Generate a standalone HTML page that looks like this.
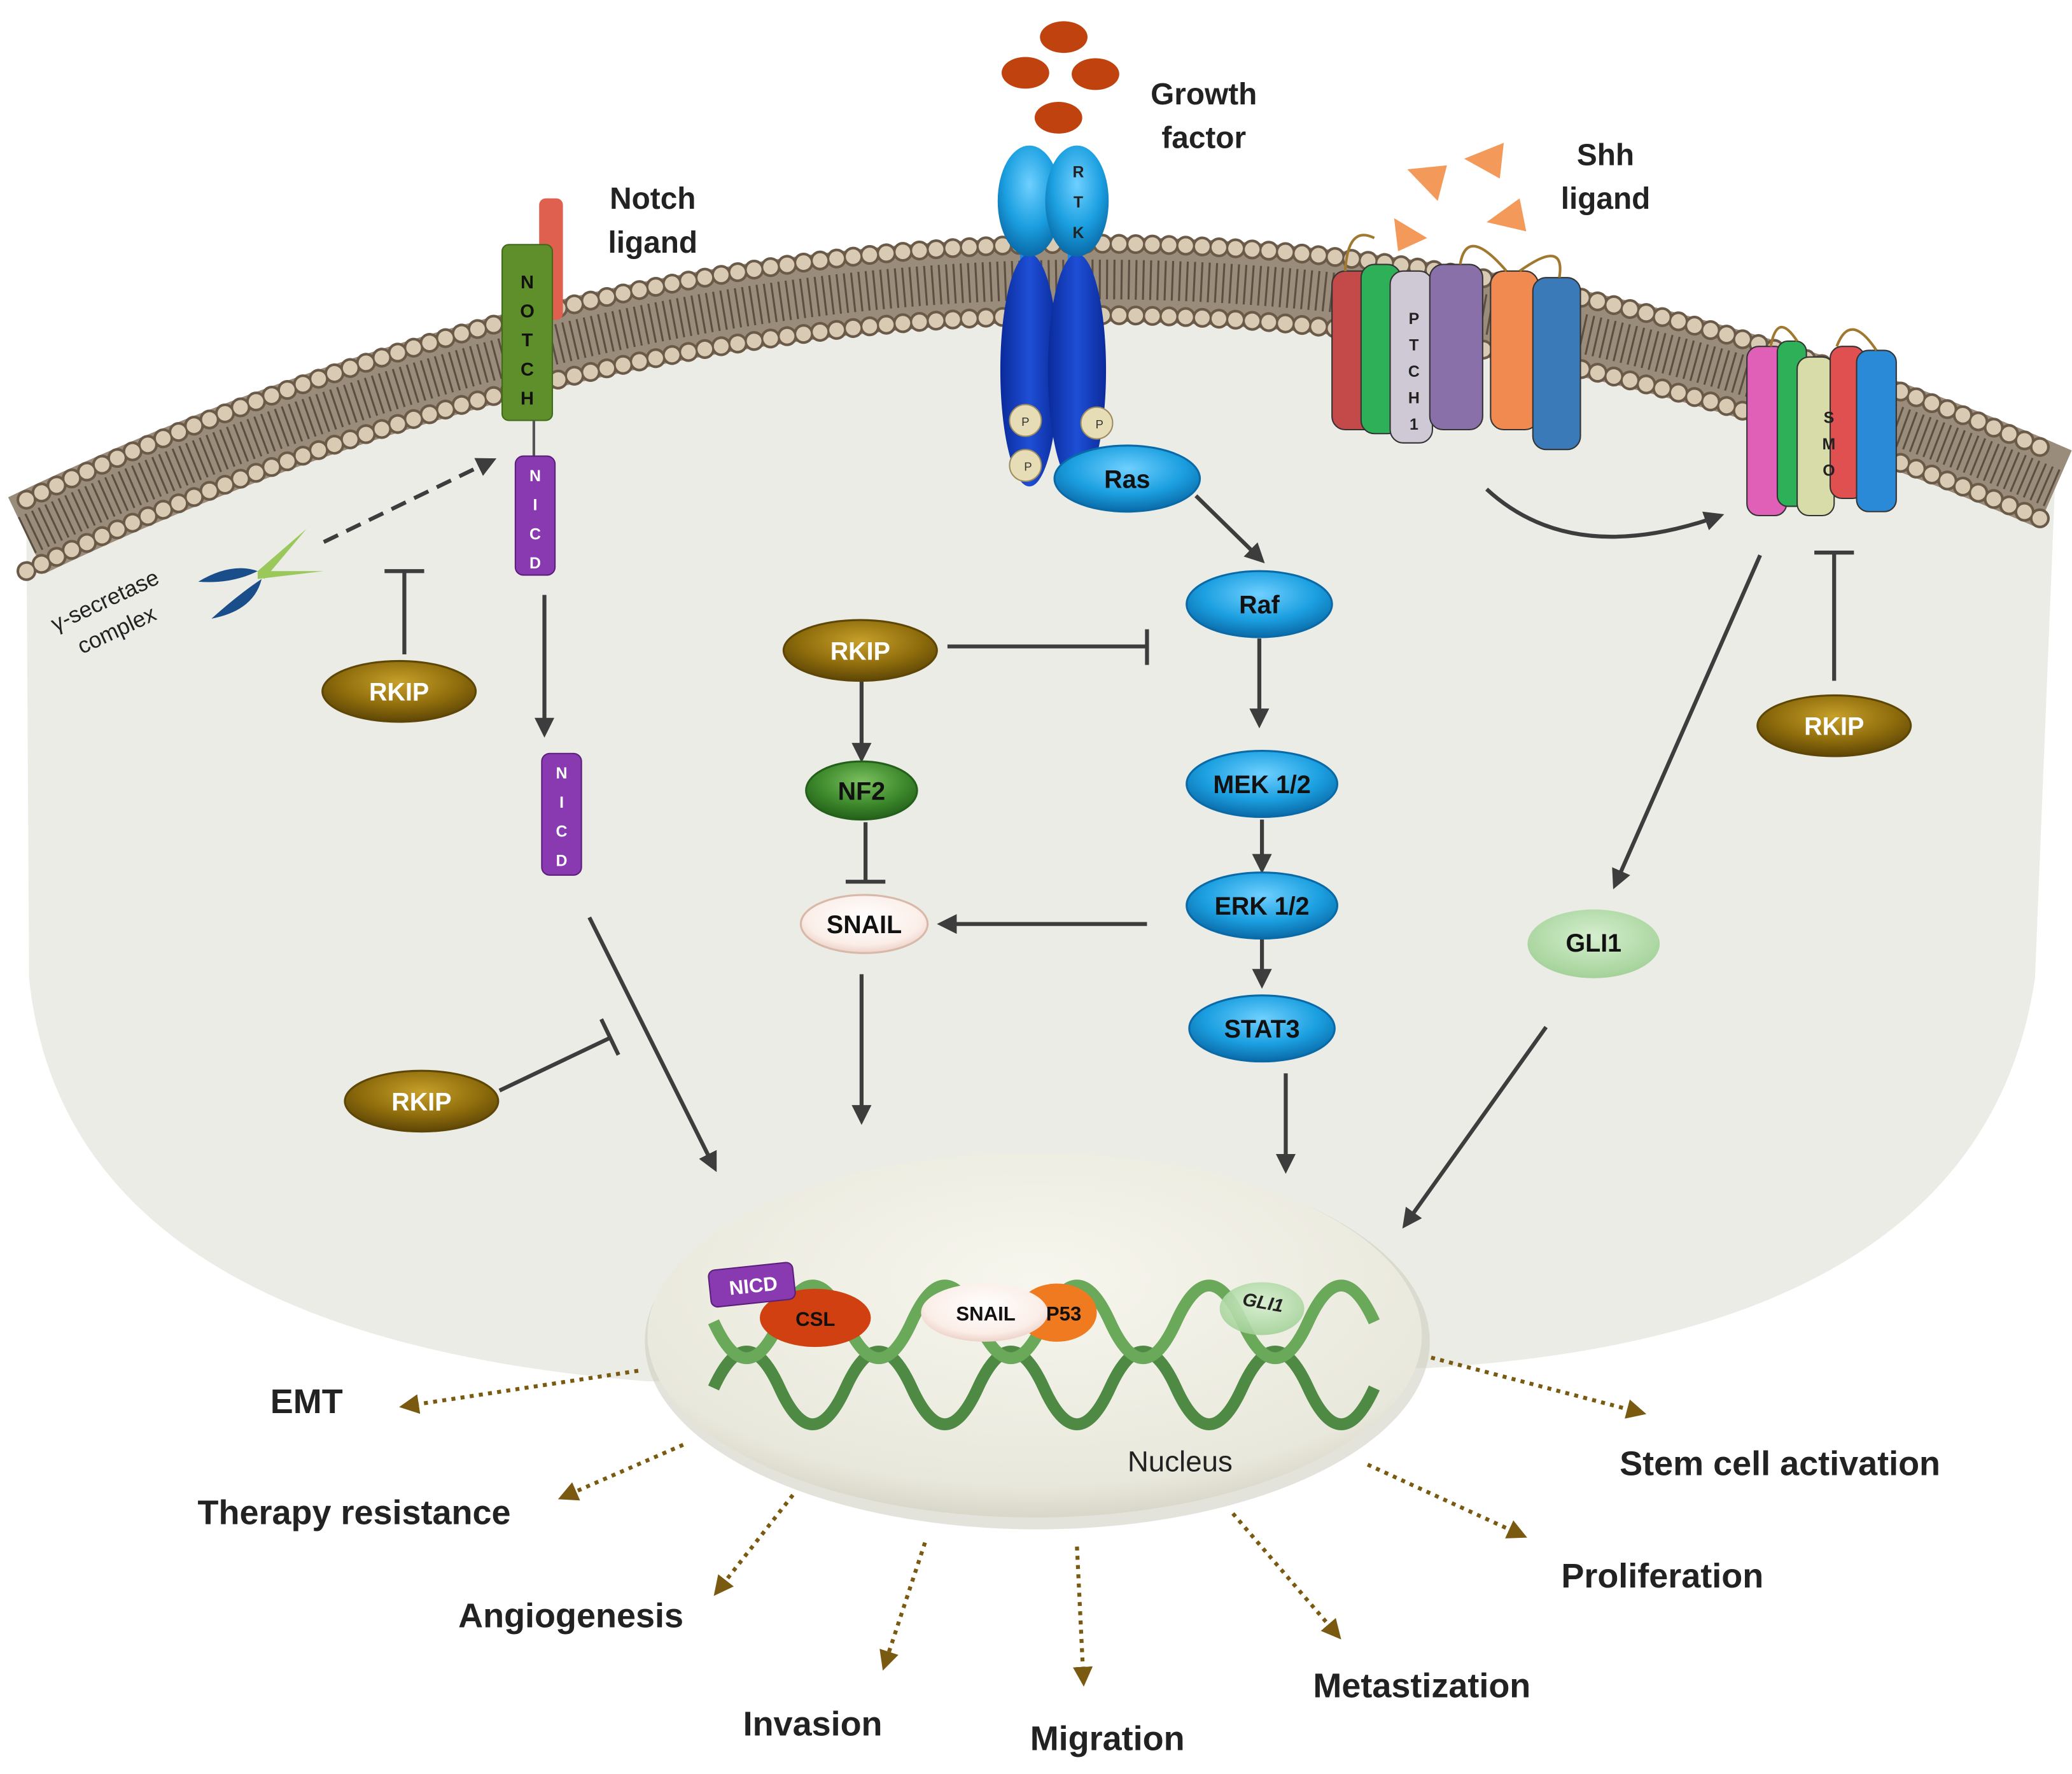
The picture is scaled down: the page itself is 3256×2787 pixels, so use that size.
<!DOCTYPE html>
<html><head><meta charset="utf-8"><style>
html,body{margin:0;padding:0;background:#fff;}
svg{display:block;}
text{font-family:"Liberation Sans",Arial,sans-serif;}
</style></head><body>
<svg width="3256" height="2787" viewBox="0 0 1568 1342" xmlns="http://www.w3.org/2000/svg">
<defs>
<radialGradient id="blue" cx="50%" cy="35%" r="65%"><stop offset="0" stop-color="#6fd0ff"/><stop offset="0.6" stop-color="#1b9fe0"/><stop offset="1" stop-color="#0a6aa8"/></radialGradient>
<radialGradient id="brown" cx="50%" cy="35%" r="65%"><stop offset="0" stop-color="#c7a02a"/><stop offset="0.6" stop-color="#8f6d0c"/><stop offset="1" stop-color="#5e4606"/></radialGradient>
<radialGradient id="green" cx="50%" cy="35%" r="65%"><stop offset="0" stop-color="#7cc060"/><stop offset="0.6" stop-color="#3e8a2c"/><stop offset="1" stop-color="#24601a"/></radialGradient>
<radialGradient id="snail" cx="50%" cy="40%" r="65%"><stop offset="0" stop-color="#ffffff"/><stop offset="0.7" stop-color="#fbeee8"/><stop offset="1" stop-color="#e8c8bc"/></radialGradient>
<radialGradient id="gli" cx="50%" cy="40%" r="65%"><stop offset="0" stop-color="#d6efcf"/><stop offset="1" stop-color="#9fcf94"/></radialGradient>
<radialGradient id="nuc" cx="50%" cy="35%" r="70%"><stop offset="0" stop-color="#f7f6ee"/><stop offset="0.8" stop-color="#e9e8dc"/><stop offset="1" stop-color="#cfcdbd"/></radialGradient>
<linearGradient id="dblue" x1="0" x2="1"><stop offset="0" stop-color="#0a2a9a"/><stop offset="0.5" stop-color="#1e4fd6"/><stop offset="1" stop-color="#0a2a9a"/></linearGradient>
<marker id="ah" viewBox="0 0 10 10" refX="8" refY="5" markerWidth="5" markerHeight="5" orient="auto"><path d="M0,0L10,5L0,10z" fill="#3d3d3d"/></marker>
<marker id="ab" viewBox="0 0 10 10" refX="8" refY="5" markerWidth="5" markerHeight="5" orient="auto"><path d="M0,0L10,5L0,10z" fill="#7a5a10"/></marker>
</defs>

<!-- cell -->
<path d="M20,400 Q790,20 1555,370 L1540,740 Q1500,1010 1080,1035 L490,1045 Q50,1010 22,740 Z" fill="#ecece7"/>
<!-- membrane -->
<path d="M20,405 Q790,36 1555,370" fill="none" stroke="#9a8c7a" stroke-width="64"/>
<path d="M20,405 Q790,36 1555,370" fill="none" stroke="#5c4f42" stroke-width="30" stroke-dasharray="1.5 4"/>
<path d="M20,378 Q790,9 1555,343" fill="none" stroke="#6b5a48" stroke-width="15" stroke-dasharray="0.1 12.5" stroke-linecap="round"/>
<path d="M20,378 Q790,9 1555,343" fill="none" stroke="#d9cab4" stroke-width="11" stroke-dasharray="0.1 12.5" stroke-linecap="round"/>
<path d="M20,432 Q790,63 1555,397" fill="none" stroke="#6b5a48" stroke-width="15" stroke-dasharray="0.1 12.5" stroke-linecap="round"/>
<path d="M20,432 Q790,63 1555,397" fill="none" stroke="#d9cab4" stroke-width="11" stroke-dasharray="0.1 12.5" stroke-linecap="round"/>

<!-- growth factor -->
<g fill="#c0420f"><ellipse cx="805" cy="28" rx="18" ry="12"/><ellipse cx="776" cy="55" rx="18" ry="12"/><ellipse cx="829" cy="56" rx="18" ry="12"/><ellipse cx="801" cy="89" rx="18" ry="12"/></g>
<!-- RTK -->
<rect x="772" y="190" width="10" height="20" fill="#1a8ad8"/><rect x="808" y="190" width="10" height="20" fill="#1a8ad8"/>
<ellipse cx="779" cy="280" rx="22" ry="88" fill="url(#dblue)"/>
<ellipse cx="815" cy="280" rx="22" ry="88" fill="url(#dblue)"/>
<ellipse cx="779" cy="152" rx="24" ry="42" fill="url(#blue)"/>
<ellipse cx="815" cy="152" rx="24" ry="42" fill="url(#blue)"/>
<g font-size="12" font-weight="bold" fill="#222" text-anchor="middle"><text x="816" y="134">R</text><text x="816" y="157">T</text><text x="816" y="180">K</text></g>
<g fill="#e6dcb5" stroke="#9c8c60"><circle cx="776" cy="318" r="12"/><circle cx="830" cy="320" r="12"/><circle cx="776" cy="352" r="12"/></g>
<g font-size="9" fill="#333" text-anchor="middle"><text x="776" y="322">P</text><text x="832" y="324">P</text><text x="778" y="356">P</text></g>

<!-- Notch -->
<rect x="408" y="150" width="18" height="92" rx="5" fill="#e0604f"/>
<rect x="380" y="185" width="38" height="133" rx="5" fill="#5f8f2a" stroke="#3f6a18"/>
<g font-size="14" font-weight="bold" fill="#111" text-anchor="middle"><text x="399" y="218">N</text><text x="399" y="240">O</text><text x="399" y="262">T</text><text x="399" y="284">C</text><text x="399" y="306">H</text></g>
<line x1="404" y1="318" x2="404" y2="345" stroke="#555" stroke-width="2"/>
<rect x="390" y="345" width="30" height="90" rx="6" fill="#8a3ab0" stroke="#5a1f7a"/>
<g font-size="12" font-weight="bold" fill="#fff" text-anchor="middle"><text x="405" y="364">N</text><text x="405" y="386">I</text><text x="405" y="408">C</text><text x="405" y="430">D</text></g>
<rect x="410" y="570" width="30" height="92" rx="6" fill="#8a3ab0" stroke="#5a1f7a"/>
<g font-size="12" font-weight="bold" fill="#fff" text-anchor="middle"><text x="425" y="589">N</text><text x="425" y="611">I</text><text x="425" y="633">C</text><text x="425" y="655">D</text></g>

<!-- gamma secretase -->
<path d="M150,440 Q175,425 195,432 Q175,442 150,440Z" fill="#1a4e8a"/>
<path d="M160,468 Q180,450 198,438 Q192,462 160,468Z" fill="#1a4e8a"/>
<path d="M195,432 L245,432 L195,438Z" fill="#9ac85a"/>
<path d="M195,432 L232,400 L200,438Z" fill="#9ac85a"/>
<text transform="translate(42,478) rotate(-25)" font-size="17" fill="#222">γ-secretase</text>
<text transform="translate(62,495) rotate(-25)" font-size="17" fill="#222">complex</text>

<!-- Shh -->
<g fill="#f39a5a"><path d="M1065,128 L1095,125 L1088,152Z"/><path d="M1108,120 L1138,108 L1135,135Z"/><path d="M1125,168 L1150,150 L1155,175Z"/><path d="M1055,165 L1080,180 L1058,190Z"/></g>
<!-- PTCH1 -->
<g stroke="#333" stroke-width="1">
<rect x="1008" y="205" width="36" height="120" rx="10" fill="#c44a4a"/>
<rect x="1030" y="200" width="30" height="128" rx="10" fill="#2db057"/>
<rect x="1052" y="205" width="32" height="130" rx="10" fill="#cfc9d6"/>
<rect x="1082" y="200" width="40" height="125" rx="10" fill="#8a70a8"/>
<rect x="1128" y="205" width="36" height="120" rx="10" fill="#f08a50"/>
<rect x="1160" y="210" width="36" height="130" rx="10" fill="#3a7ab8"/>
</g>
<path d="M1018,205 Q1020,170 1040,180 M1105,200 Q1110,170 1140,205 M1180,210 Q1185,180 1150,205" fill="none" stroke="#a07830" stroke-width="2"/>
<g font-size="12" font-weight="bold" fill="#222" text-anchor="middle"><text x="1070" y="245">P</text><text x="1070" y="265">T</text><text x="1070" y="285">C</text><text x="1070" y="305">H</text><text x="1070" y="325">1</text></g>
<!-- SMO -->
<g stroke="#333" stroke-width="1">
<rect x="1322" y="262" width="30" height="128" rx="9" fill="#e060b8"/>
<rect x="1345" y="258" width="22" height="125" rx="8" fill="#2db057"/>
<rect x="1360" y="270" width="28" height="120" rx="9" fill="#d8dca8"/>
<rect x="1385" y="262" width="26" height="115" rx="9" fill="#e05050"/>
<rect x="1405" y="265" width="30" height="122" rx="9" fill="#2a8ad8"/>
</g>
<path d="M1340,262 Q1345,235 1360,258 M1390,262 Q1400,235 1420,265" fill="none" stroke="#a07830" stroke-width="2"/>
<g font-size="12" font-weight="bold" fill="#222" text-anchor="middle"><text x="1384" y="320">S</text><text x="1384" y="340">M</text><text x="1384" y="360">O</text></g>

<!-- nucleus -->
<ellipse cx="785" cy="1015" rx="297" ry="142" fill="#c9c7b8" opacity="0.5"/>
<ellipse cx="783" cy="1010" rx="293" ry="138" fill="url(#nuc)"/>
<!-- DNA -->
<path d="M540,1050 Q565,995 590,1050 T640,1050 T690,1050 T740,1050 T790,1050 T840,1050 T890,1050 T940,1050 T990,1050 T1040,1050" fill="none" stroke="#4f8a45" stroke-width="9"/>
<path d="M540,1000 Q565,1055 590,1000 T640,1000 T690,1000 T740,1000 T790,1000 T840,1000 T890,1000 T940,1000 T990,1000 T1040,1000" fill="none" stroke="#6aa85a" stroke-width="9"/>
<ellipse cx="617" cy="997" rx="42" ry="22" fill="#d04010"/>
<text x="617" y="1003" font-size="15" font-weight="bold" fill="#111" text-anchor="middle">CSL</text>
<g transform="rotate(-6,568,972)"><rect x="537" y="958" width="64" height="28" rx="5" fill="#8a3ab0" stroke="#5a1f7a"/><text x="570" y="978" font-size="15" font-weight="bold" fill="#fff" text-anchor="middle">NICD</text></g>
<ellipse cx="800" cy="993" rx="30" ry="22" fill="#f07a20"/>
<ellipse cx="745" cy="993" rx="48" ry="22" fill="url(#snail)"/>
<text x="746" y="999" font-size="15" font-weight="bold" fill="#111" text-anchor="middle">SNAIL</text>
<text x="805" y="999" font-size="15" font-weight="bold" fill="#111" text-anchor="middle">P53</text>
<ellipse cx="955" cy="990" rx="32" ry="20" fill="url(#gli)" opacity="0.9"/>
<text x="955" y="990" font-size="14" font-style="italic" font-weight="bold" fill="#222" text-anchor="middle" transform="rotate(10,955,990)">GLI1</text>
<text x="893" y="1113" font-size="22" fill="#222" text-anchor="middle">Nucleus</text>

<!-- connectors -->
<g stroke="#3d3d3d" stroke-width="3" fill="none">
<line x1="905" y1="375" x2="955" y2="424" marker-end="url(#ah)"/>
<line x1="953" y1="483" x2="953" y2="548" marker-end="url(#ah)"/>
<line x1="955" y1="620" x2="955" y2="658" marker-end="url(#ah)"/>
<line x1="955" y1="710" x2="955" y2="745" marker-end="url(#ah)"/>
<line x1="973" y1="812" x2="973" y2="885" marker-end="url(#ah)"/>
<line x1="868" y1="699" x2="712" y2="699" marker-end="url(#ah)"/>
<line x1="652" y1="737" x2="652" y2="848" marker-end="url(#ah)"/>
<line x1="652" y1="515" x2="652" y2="574" marker-end="url(#ah)"/>
<line x1="655" y1="622" x2="655" y2="667"/><line x1="640" y1="667" x2="670" y2="667"/>
<line x1="717" y1="489" x2="868" y2="489"/><line x1="868" y1="476" x2="868" y2="503"/>
<line x1="306" y1="495" x2="306" y2="432"/><line x1="291" y1="432" x2="321" y2="432"/>
<line x1="412" y1="450" x2="412" y2="555" marker-end="url(#ah)"/>
<line x1="446" y1="694" x2="541" y2="884" marker-end="url(#ah)"/>
<line x1="378" y1="825" x2="462" y2="785"/><line x1="455" y1="771" x2="468" y2="798"/>
<path d="M1125,370 Q1190,430 1302,390" marker-end="url(#ah)"/>
<line x1="1332" y1="420" x2="1222" y2="670" marker-end="url(#ah)"/>
<line x1="1388" y1="515" x2="1388" y2="418"/><line x1="1373" y1="418" x2="1403" y2="418"/>
<line x1="1170" y1="777" x2="1063" y2="927" marker-end="url(#ah)"/>
<line x1="245" y1="410" x2="373" y2="348" stroke-dasharray="12 7" marker-end="url(#ah)"/>
</g>
<g stroke="#7a5a10" stroke-width="3" fill="none" stroke-dasharray="3 4">
<line x1="483" y1="1037" x2="305" y2="1064" marker-end="url(#ab)"/>
<line x1="517" y1="1093" x2="425" y2="1133" marker-end="url(#ab)"/>
<line x1="600" y1="1131" x2="542" y2="1205" marker-end="url(#ab)"/>
<line x1="700" y1="1167" x2="669" y2="1261" marker-end="url(#ab)"/>
<line x1="815" y1="1170" x2="820" y2="1273" marker-end="url(#ab)"/>
<line x1="933" y1="1145" x2="1013" y2="1238" marker-end="url(#ab)"/>
<line x1="1035" y1="1108" x2="1153" y2="1162" marker-end="url(#ab)"/>
<line x1="1083" y1="1027" x2="1243" y2="1069" marker-end="url(#ab)"/>
</g>

<!-- nodes -->
<g stroke-width="1.5">
<ellipse cx="853" cy="362" rx="55" ry="25" fill="url(#blue)" stroke="#0a6aa8"/>
<ellipse cx="953" cy="457" rx="55" ry="25" fill="url(#blue)" stroke="#0a6aa8"/>
<ellipse cx="955" cy="593" rx="57" ry="25" fill="url(#blue)" stroke="#0a6aa8"/>
<ellipse cx="955" cy="685" rx="57" ry="25" fill="url(#blue)" stroke="#0a6aa8"/>
<ellipse cx="955" cy="778" rx="55" ry="25" fill="url(#blue)" stroke="#0a6aa8"/>
<ellipse cx="651" cy="492" rx="58" ry="23" fill="url(#brown)" stroke="#5e4606"/>
<ellipse cx="302" cy="523" rx="58" ry="23" fill="url(#brown)" stroke="#5e4606"/>
<ellipse cx="319" cy="833" rx="58" ry="23" fill="url(#brown)" stroke="#5e4606"/>
<ellipse cx="1388" cy="549" rx="58" ry="23" fill="url(#brown)" stroke="#5e4606"/>
<ellipse cx="652" cy="598" rx="42" ry="22" fill="url(#green)" stroke="#24601a"/>
<ellipse cx="654" cy="699" rx="48" ry="22" fill="url(#snail)" stroke="#d8b8a8"/>
<ellipse cx="1206" cy="714" rx="50" ry="26" fill="url(#gli)"/>
</g>
<g font-size="19" font-weight="bold" fill="#111" text-anchor="middle">
<text x="853" y="369">Ras</text><text x="953" y="464">Raf</text><text x="955" y="600">MEK 1/2</text><text x="955" y="692">ERK 1/2</text><text x="955" y="785">STAT3</text>
<text x="651" y="499" fill="#fff">RKIP</text><text x="302" y="530" fill="#fff">RKIP</text><text x="319" y="840" fill="#fff">RKIP</text><text x="1388" y="556" fill="#fff">RKIP</text>
<text x="652" y="605">NF2</text><text x="654" y="706">SNAIL</text><text x="1206" y="720">GLI1</text>
</g>

<!-- labels -->
<g font-size="23" font-weight="bold" fill="#222" text-anchor="middle">
<text x="494" y="158">Notch</text><text x="494" y="191">ligand</text>
<text x="911" y="79">Growth</text><text x="911" y="112">factor</text>
<text x="1215" y="125">Shh</text><text x="1215" y="158">ligand</text>
</g>
<g font-size="26" font-weight="bold" fill="#222" text-anchor="middle">
<text x="232" y="1069">EMT</text>
<text x="268" y="1153">Therapy resistance</text>
<text x="432" y="1231">Angiogenesis</text>
<text x="615" y="1313">Invasion</text>
<text x="838" y="1324">Migration</text>
<text x="1076" y="1284">Metastization</text>
<text x="1258" y="1201">Proliferation</text>
<text x="1347" y="1116">Stem cell activation</text>
</g>
</svg>
</body></html>
